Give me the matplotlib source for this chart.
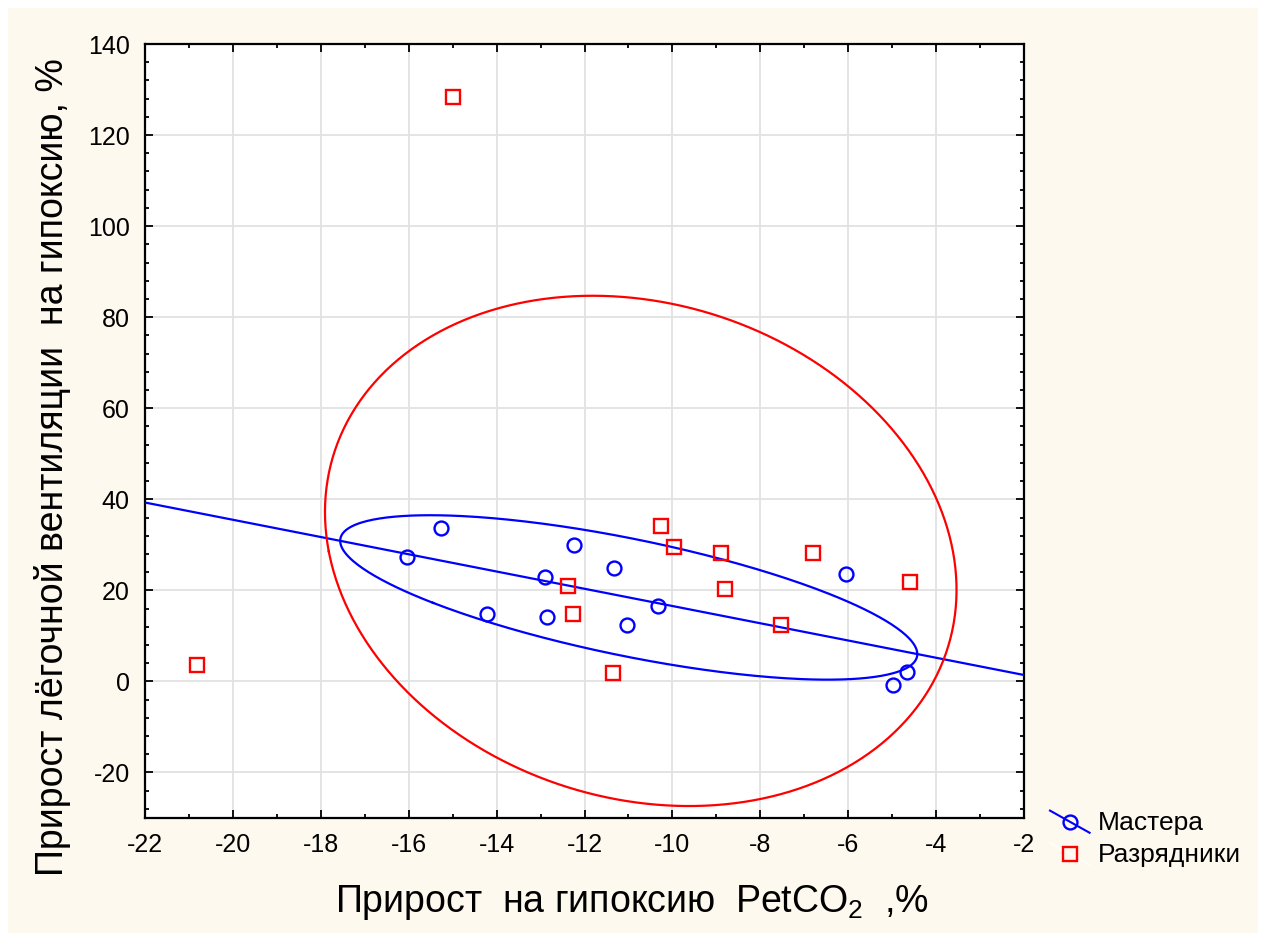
"""Ventilation gain vs PetCO2 gain under hypoxia, two athlete groups."""

import numpy as np
import matplotlib

matplotlib.use("Agg")
import matplotlib.pyplot as plt
from matplotlib.legend_handler import HandlerLine2D
from matplotlib.lines import Line2D
from matplotlib.patches import Rectangle

plt.rcParams["font.family"] = ["Liberation Sans", "DejaVu Sans"]
plt.rcParams["mathtext.fontset"] = "custom"
plt.rcParams["mathtext.rm"] = "Liberation Sans"
plt.rcParams["mathtext.default"] = "regular"

# Мастера (masters)
masters_x = [-16.05, -15.27, -14.22, -12.90, -12.86, -12.24,
             -11.33, -11.03, -10.32, -6.04, -4.99, -4.67]
masters_y = [27.3, 33.8, 14.9, 22.9, 14.1, 29.9,
             24.8, 12.3, 16.5, 23.5, -0.7, 2.0]

# Разрядники (ranked athletes)
ranked_x = [-15.00, -20.81, -12.38, -12.26, -11.35, -10.26,
            -9.96, -8.89, -8.80, -7.54, -6.79, -4.60]
ranked_y = [128.4, 3.7, 20.9, 14.9, 1.8, 34.1,
            29.5, 28.1, 20.2, 12.5, 28.1, 21.8]

group_names = ["Мастера", "Разрядники"]
x_ticks = list(range(-22, -1, 2))
y_ticks = list(range(-20, 141, 20))

xlabel = "Прирост  на гипоксию  PetCO$_2$  ,%"
ylabel = "Прирост лёгочной вентиляции  на гипоксию, %"

BLUE = "#0000FF"
RED = "#FF0000"
CREAM = "#FEF9EE"
ELLIPSE_SCALE = 1.7


def _ellipse(x, y, scale, n=400):
    pts = np.column_stack([x, y])
    center = pts.mean(axis=0)
    cov = np.cov(pts, rowvar=False)
    vals, vecs = np.linalg.eigh(cov)
    t = np.linspace(0, 2 * np.pi, n)
    circle = np.column_stack([np.cos(t), np.sin(t)]) * np.sqrt(vals) * scale
    return center + circle @ vecs.T


class _SlantHandler(HandlerLine2D):
    """Legend key drawn as a descending line with the marker in the middle."""

    def create_artists(self, legend, orig_handle, xdescent, ydescent,
                       width, height, fontsize, trans):
        x0, x1 = -xdescent, -xdescent + width
        y0, y1 = -ydescent + height * 1.05, -ydescent - height * 0.15
        line = Line2D([x0, (x0 + x1) / 2, x1], [y0, (y0 + y1) / 2, y1],
                      markevery=[1])
        self.update_prop(line, orig_handle, legend)
        line.set_transform(trans)
        return [line]


W, H = 1262, 933
fig = plt.figure(figsize=(W / 100, H / 100), dpi=100)
fig.patch.set_facecolor("white")
fig.add_artist(Rectangle((8 / W, 0), (1258 - 8) / W, (H - 8) / H,
                         transform=fig.transFigure, facecolor=CREAM,
                         edgecolor="none", zorder=-10))

ax = fig.add_axes([145 / W, 1 - 818 / H, (1024 - 145) / W, (818 - 44) / H])
ax.set_facecolor("white")

# regression line for the masters group
coef = np.polyfit(masters_x, masters_y, 1)
xl = np.array([-22, -2])
ax.plot(xl, np.polyval(coef, xl), color=BLUE, lw=1.6, zorder=3)

for xs, ys, col in [(masters_x, masters_y, BLUE), (ranked_x, ranked_y, RED)]:
    e = _ellipse(xs, ys, ELLIPSE_SCALE)
    ax.plot(e[:, 0], e[:, 1], color=col, lw=1.6, zorder=3)

ax.plot(masters_x, masters_y, linestyle="none", marker="o", ms=10,
        mfc="none", mec=BLUE, mew=1.7, zorder=4)
ax.plot(ranked_x, ranked_y, linestyle="none", marker="s", ms=9.5,
        mfc="none", mec=RED, mew=1.7, zorder=4)

ax.set_xlim(-22, -2)
ax.set_ylim(-30, 140)
ax.set_xticks(x_ticks)
ax.set_yticks(y_ticks)
ax.set_xticks(np.arange(-22, -1, 1), minor=True)
ax.set_yticks(np.arange(-28, 141, 4), minor=True)
ax.set_xticklabels([str(v) for v in x_ticks])
ax.set_yticklabels([str(v) for v in y_ticks])
ax.grid(True, which="major", color="#E2E2E2", lw=1.3, zorder=0)
ax.set_axisbelow(True)
ax.tick_params(which="both", direction="in", top=True, right=True,
               color="black", labelsize=18)
ax.tick_params(which="major", length=6, width=1.3)
ax.tick_params(which="minor", length=3, width=1.3)
ax.tick_params(axis="y", pad=11)
ax.tick_params(axis="x", pad=11)
for s in ax.spines.values():
    s.set_linewidth(1.6)
    s.set_color("black")

fig.text(632 / W, 1 - 912 / H, xlabel, fontsize=27, ha="center",
         va="baseline")
fig.text(63 / W, 1 - 467 / H, ylabel, fontsize=27, rotation=90,
         rotation_mode="anchor", ha="center", va="baseline")

handles = [
    Line2D([], [], color=BLUE, lw=1.5, marker="o", ms=10, mfc="none",
           mec=BLUE, mew=1.7),
    Line2D([], [], color="white", lw=1.0, marker="s", ms=9.5, mfc="none",
           mec=RED, mew=1.7),
]
fig.legend(handles, group_names, loc="upper left",
           bbox_to_anchor=(1050 / W, 1 - 811 / H), frameon=False,
           fontsize=19, handlelength=1.5, handletextpad=0.3,
           labelspacing=0.3, borderpad=0, borderaxespad=0,
           handler_map={Line2D: _SlantHandler(numpoints=1)})

fig.savefig("out.png", dpi=100, facecolor=fig.get_facecolor())
